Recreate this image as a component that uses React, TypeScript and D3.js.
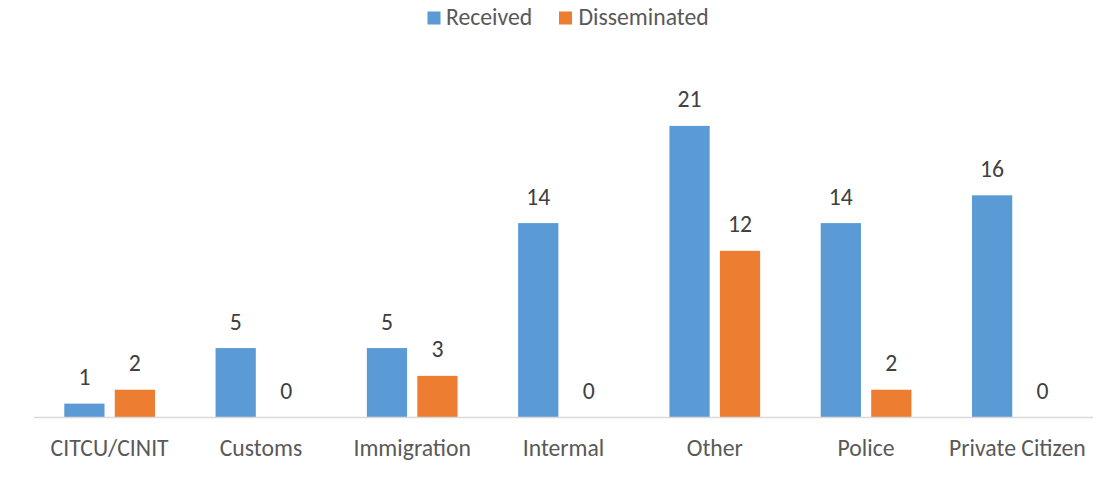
import React from "react";
import * as d3 from "d3";

const categories = ["CITCU/CINIT", "Customs", "Immigration", "Intermal", "Other", "Police", "Private Citizen"];
const seriesNames = ["Received", "Disseminated"];
const received = [1, 5, 5, 14, 21, 14, 16];
const disseminated = [2, 0, 3, 0, 12, 2, 0];
const colors = ["#5B9BD5", "#ED7D31"];

const W = 1111;
const H = 477;
const FONT = "Carlito, Calibri, Lato, sans-serif";
const FS = 23.7;

export default function App() {
  const plotLeft = 34;
  const plotRight = 1093;
  const baseline = 417.5;
  const x0 = d3.scaleBand<string>().domain(categories).range([plotLeft, plotRight]).paddingInner(0).paddingOuter(0);
  const x1 = d3.scaleBand<string>().domain(seriesNames).range([0, x0.bandwidth()]).paddingInner(0.203).paddingOuter(0.6);
  const y = d3.scaleLinear().domain([0, 25]).range([baseline, baseline - 25 * 13.886]);
  const values = [received, disseminated];

  return (
    <svg width={W} height={H} style={{ position: "absolute", left: 0, top: 0, background: "#fff" }} fontFamily={FONT}>
      {/* legend */}
      <g>
        <rect x={427.5} y={11.5} width={13} height={13} fill={colors[0]} />
        <text x={446} y={24.5} fontSize={FS} fill="#595959">{seriesNames[0]}</text>
        <rect x={559} y={11.5} width={13} height={13} fill={colors[1]} />
        <text x={578.5} y={24.5} fontSize={FS} fill="#595959">{seriesNames[1]}</text>
      </g>
      {/* bars */}
      {categories.map((c, i) => (
        <g key={c} transform={`translate(${x0(c)},0)`}>
          {seriesNames.map((s, j) => {
            const v = values[j][i];
            const bx = x1(s)!;
            const bw = x1.bandwidth();
            return (
              <g key={s}>
                {v > 0 && <rect x={bx} y={y(v)} width={bw} height={baseline - y(v)} fill={colors[j]} />}
                <text x={bx + bw / 2} y={y(v) - 18.5} textAnchor="middle" fontSize={FS} fill="#404040">{v}</text>
              </g>
            );
          })}
        </g>
      ))}
      {/* axis */}
      <line x1={plotLeft} x2={plotRight} y1={baseline} y2={baseline} stroke="#D9D9D9" strokeWidth={1.5} />
      {categories.map((c) => (
        <text key={c} x={x0(c)! + x0.bandwidth() / 2} y={456} textAnchor="middle" fontSize={FS} fill="#595959">{c}</text>
      ))}
    </svg>
  );
}
